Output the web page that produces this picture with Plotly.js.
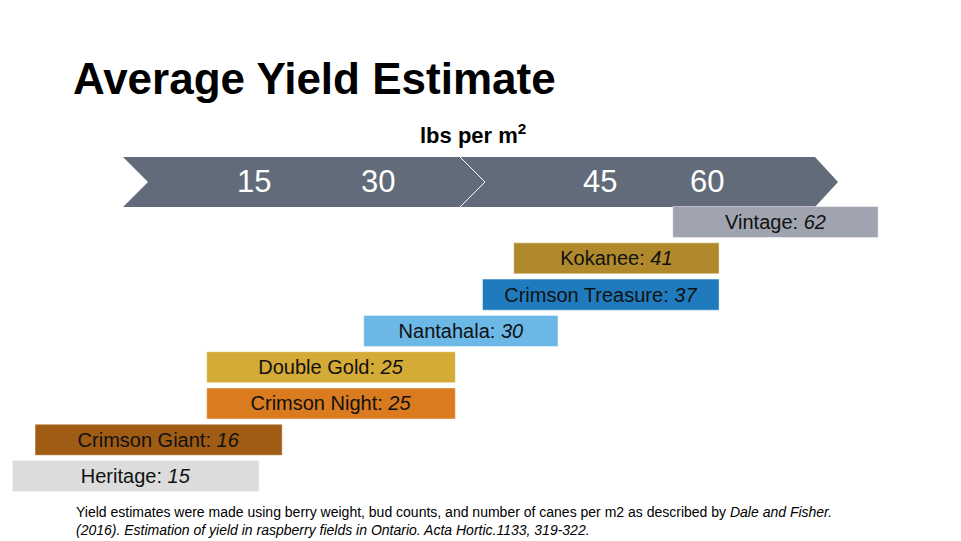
<!DOCTYPE html>
<html>
<head>
<meta charset="utf-8">
<script src="https://cdn.plot.ly/plotly-3.0.1.min.js"></script>
<style>html,body{margin:0;padding:0;background:#fff;}#chart{width:961px;height:541px;}</style>
</head>
<body>
<div id="chart"></div>
<script>
// ---- data ----
const varieties = ["Heritage", "Crimson Giant", "Crimson Night", "Double Gold", "Nantahala", "Crimson Treasure", "Kokanee", "Vintage"];
const yieldValues = [15, 16, 25, 25, 30, 37, 41, 62];
// bar extents as drawn on the slide (lbs per m2 scale)
const barStart = [-9.0, -6.75, 10.3, 10.3, 25.9, 37.7, 40.8, 56.6];
const barEnd   = [15.5, 17.8, 35.0, 35.0, 45.2, 61.2, 61.2, 77.0];
const barColors = ["#dcdcdc", "#a05c14", "#d97b1e", "#d5ab37", "#6bb7e6", "#1f7bbd", "#b0892c", "#a0a4b0"];
const tickText = ["15", "30", "45", "60"];
const tickPos  = [15, 27.3, 49.4, 60];

// ---- helpers for slide decorations (pixel -> paper) ----
const W = 961, H = 541;
const px = v => v / W;
const py = v => 1 - v / H;

const font = "Arial, 'Liberation Sans', Helvetica, sans-serif";

const trace = {
  type: "bar",
  orientation: "h",
  y: varieties,
  base: barStart,
  x: barEnd.map((e, i) => e - barStart[i]),
  width: 0.855,
  text: varieties.map((v, i) => v + ": <i>" + yieldValues[i] + "</i>"),
  textposition: "inside",
  insidetextanchor: "middle",
  constraintext: "none",
  textangle: 0,
  textfont: {family: font, size: 20, color: "#111111"},
  marker: {color: barColors, line: {color: "rgba(255,255,255,0.45)", width: 1}},
  hoverinfo: "skip"
};

// arrow banner
const arrowPath = "M " + px(123) + " " + py(157) +
  " L " + px(815) + " " + py(157) +
  " L " + px(838) + " " + py(182) +
  " L " + px(815) + " " + py(207) +
  " L " + px(123) + " " + py(207) +
  " L " + px(148) + " " + py(182) + " Z";
const chevronPath = "M " + px(460) + " " + py(157) +
  " L " + px(485) + " " + py(182) +
  " L " + px(460) + " " + py(207);

const annotations = tickText.map((t, i) => ({
  x: tickPos[i], xref: "x", y: py(181), yref: "paper",
  text: t, showarrow: false, xanchor: "center", yanchor: "middle",
  font: {family: font, size: 31, color: "#ffffff"}
}));
annotations.push({
  x: px(473), xref: "paper", y: py(134), yref: "paper",
  text: "<b>lbs per m<sup>2</sup></b>", showarrow: false, xanchor: "center", yanchor: "middle",
  font: {family: font, size: 22, color: "#000000"}
});
annotations.push({
  x: px(74), xref: "paper", y: py(502), yref: "paper",
  text: "Yield estimates were made using berry weight, bud counts, and number of canes per m2 as described by <i>Dale and Fisher.</i><br><i>(2016). Estimation of yield in raspberry fields in Ontario. Acta Hortic.1133, 319-322.</i>",
  showarrow: false, xanchor: "left", yanchor: "top", align: "left",
  font: {family: font, size: 14, color: "#000000"}
});

const layout = {
  width: W, height: H,
  margin: {l: 0, r: 0, t: 0, b: 0, pad: 0},
  paper_bgcolor: "#ffffff", plot_bgcolor: "#ffffff",
  showlegend: false,
  title: {
    text: "<b>Average Yield Estimate</b>",
    x: px(73), xref: "paper", xanchor: "left",
    y: py(79), yref: "paper", yanchor: "middle",
    font: {family: font, size: 44, color: "#000000"}
  },
  xaxis: {range: [-103 / 10.0667, (W - 103) / 10.0667], visible: false, fixedrange: true},
  yaxis: {type: "category", categoryorder: "array", categoryarray: varieties,
          range: [-1.79, 13.12], visible: false, fixedrange: true},
  shapes: [
    {type: "path", xref: "paper", yref: "paper", path: arrowPath, fillcolor: "#626b7a", line: {width: 0}, layer: "below"},
    {type: "path", xref: "paper", yref: "paper", path: chevronPath, line: {color: "#ffffff", width: 1}, layer: "below"}
  ],
  annotations: annotations
};

Plotly.newPlot("chart", [trace], layout, {displayModeBar: false, staticPlot: true});
</script>
</body>
</html>
